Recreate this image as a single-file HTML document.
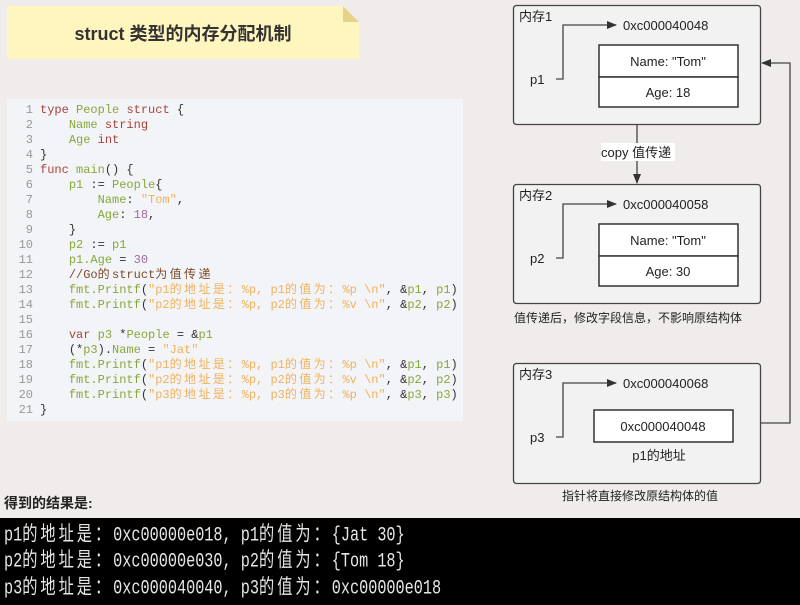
<!DOCTYPE html>
<html><head><meta charset="utf-8"><style>
body{margin:0;width:800px;height:605px;background:#efeceb;position:relative;overflow:hidden;font-family:"Liberation Sans","Noto Sans CJK SC",sans-serif;}
.abs{position:absolute;}
.code{left:7px;top:99px;width:456px;height:322px;background:#f3f4f8;font-family:"Liberation Mono","Noto Sans CJK SC",monospace;font-size:12px;}
.code div{position:absolute;left:0;height:15px;line-height:15px;white-space:pre;}
.ln{color:#999;display:inline-block;width:26px;text-align:right;margin-right:7px;}
.k{color:#a9443b}.g{color:#86a83a}.s{color:#f0b25c}.n{color:#9d6b9c}.c{color:#7a4a2a}.p{color:#333}
.w{letter-spacing:2.4px}
.term{left:0;top:518px;width:800px;height:87px;background:#000;}
.term div{position:absolute;left:4px;white-space:pre;font-family:"Liberation Mono","Noto Sans CJK SC",monospace;font-size:15.2px;color:#e6e6e6;transform:scaleY(1.35);transform-origin:left center;height:20px;line-height:20px;}
.cj{letter-spacing:3px}
</style></head><body>
<div class="abs" style="left:7px;top:6px;width:352px;height:53px;background:#fff6bf;clip-path:polygon(0 0,336px 0,352px 16px,352px 53px,0 53px);"></div>
<div class="abs" style="left:343px;top:6px;width:16px;height:16px;background:#e6d38a;clip-path:polygon(0 0,100% 100%,0 100%);"></div>
<div class="abs" style="left:7px;top:20px;width:352px;text-align:center;font-weight:bold;font-size:18px;color:#333;">struct 类型的内存分配机制</div>

<div class="abs code">
<div style="top:4px"><span class="ln">1</span><span class="k">type</span> <span class="g">People</span> <span class="k">struct</span> <span class="p">{</span></div>
<div style="top:19px"><span class="ln">2</span>    <span class="g">Name</span> <span class="k">string</span></div>
<div style="top:34px"><span class="ln">3</span>    <span class="g">Age</span> <span class="k">int</span></div>
<div style="top:49px"><span class="ln">4</span><span class="p">}</span></div>
<div style="top:64px"><span class="ln">5</span><span class="k">func</span> <span class="g">main</span><span class="p">() {</span></div>
<div style="top:79px"><span class="ln">6</span>    <span class="g">p1</span> <span class="p">:=</span> <span class="g">People</span><span class="p">{</span></div>
<div style="top:94px"><span class="ln">7</span>        <span class="g">Name</span><span class="p">:</span> <span class="s">"Tom"</span><span class="p">,</span></div>
<div style="top:109px"><span class="ln">8</span>        <span class="g">Age</span><span class="p">:</span> <span class="n">18</span><span class="p">,</span></div>
<div style="top:124px"><span class="ln">9</span>    <span class="p">}</span></div>
<div style="top:139px"><span class="ln">10</span>    <span class="g">p2</span> <span class="p">:=</span> <span class="g">p1</span></div>
<div style="top:154px"><span class="ln">11</span>    <span class="g">p1.Age</span> <span class="p">=</span> <span class="n">30</span></div>
<div style="top:169px"><span class="ln">12</span>    <span class="c">//Go<span class="w">的</span>struct<span class="w">为值传递</span></span></div>
<div style="top:184px"><span class="ln">13</span>    <span class="g">fmt.Printf</span><span class="p">(</span><span class="s">"p1<span class="w">的地址是：</span>%p, p1<span class="w">的值为：</span>%p \n"</span><span class="p">, &amp;</span><span class="g">p1</span><span class="p">,</span> <span class="g">p1</span><span class="p">)</span></div>
<div style="top:199px"><span class="ln">14</span>    <span class="g">fmt.Printf</span><span class="p">(</span><span class="s">"p2<span class="w">的地址是：</span>%p, p2<span class="w">的值为：</span>%v \n"</span><span class="p">, &amp;</span><span class="g">p2</span><span class="p">,</span> <span class="g">p2</span><span class="p">)</span></div>
<div style="top:214px"><span class="ln">15</span></div>
<div style="top:229px"><span class="ln">16</span>    <span class="k">var</span> <span class="g">p3</span> <span class="p">*</span><span class="g">People</span> <span class="p">= &amp;</span><span class="g">p1</span></div>
<div style="top:244px"><span class="ln">17</span>    <span class="p">(*</span><span class="g">p3</span><span class="p">).</span><span class="g">Name</span> <span class="p">=</span> <span class="s">"Jat"</span></div>
<div style="top:259px"><span class="ln">18</span>    <span class="g">fmt.Printf</span><span class="p">(</span><span class="s">"p1<span class="w">的地址是：</span>%p, p1<span class="w">的值为：</span>%p \n"</span><span class="p">, &amp;</span><span class="g">p1</span><span class="p">,</span> <span class="g">p1</span><span class="p">)</span></div>
<div style="top:274px"><span class="ln">19</span>    <span class="g">fmt.Printf</span><span class="p">(</span><span class="s">"p2<span class="w">的地址是：</span>%p, p2<span class="w">的值为：</span>%v \n"</span><span class="p">, &amp;</span><span class="g">p2</span><span class="p">,</span> <span class="g">p2</span><span class="p">)</span></div>
<div style="top:289px"><span class="ln">20</span>    <span class="g">fmt.Printf</span><span class="p">(</span><span class="s">"p3<span class="w">的地址是：</span>%p, p3<span class="w">的值为：</span>%p \n"</span><span class="p">, &amp;</span><span class="g">p3</span><span class="p">,</span> <span class="g">p3</span><span class="p">)</span></div>
<div style="top:304px"><span class="ln">21</span><span class="p">}</span></div>
</div>

<svg class="abs" style="left:0;top:0" width="800" height="605" font-family="Liberation Sans, Noto Sans CJK SC, sans-serif" font-size="13" fill="#222">
<defs><marker id="a" markerWidth="10" markerHeight="8" refX="9" refY="4" orient="auto" markerUnits="userSpaceOnUse"><path d="M0,0L10,4L0,8z" fill="#333"/></marker></defs>
<g stroke="#444" stroke-width="1.3" fill="#f2f2f2">
<rect x="513.5" y="5.5" width="247" height="119" rx="3"/>
<rect x="513.5" y="184.5" width="247" height="119" rx="3"/>
<rect x="513.5" y="363.5" width="247" height="120" rx="3"/>
</g>
<g stroke="#333" stroke-width="1.5" fill="#fff">
<rect x="599" y="45" width="139" height="32"/><rect x="599" y="77" width="139" height="30"/>
<rect x="599" y="224" width="139" height="32"/><rect x="599" y="256" width="139" height="30"/>
<rect x="594" y="410" width="139" height="32"/>
</g>
<g stroke="#444" stroke-width="1.3" fill="none">
<path d="M556,79H563V25H616" marker-end="url(#a)"/>
<path d="M556,258H563V204H616" marker-end="url(#a)"/>
<path d="M556,437H563V383H616" marker-end="url(#a)"/>
<path d="M637,124V183" marker-end="url(#a)"/>
<path d="M760,423H790V63H762" marker-end="url(#a)"/>
</g>
<rect x="601" y="143" width="74" height="18" fill="#fff"/>
<text x="601" y="157">copy 值传递</text>
<text x="519" y="21">内存1</text><text x="519" y="200">内存2</text><text x="519" y="379">内存3</text>
<text x="623" y="30">0xc000040048</text><text x="623" y="209">0xc000040058</text><text x="623" y="388">0xc000040068</text>
<text x="530" y="84">p1</text><text x="530" y="263">p2</text><text x="530" y="442">p3</text>
<g text-anchor="middle">
<text x="668" y="66">Name: "Tom"</text><text x="668" y="97">Age: 18</text>
<text x="668" y="245">Name: "Tom"</text><text x="668" y="276">Age: 30</text>
<text x="663" y="431">0xc000040048</text><text x="659" y="460">p1的地址</text>
<text x="640" y="500" font-size="12">指针将直接修改原结构体的值</text>
</g>
<text x="514" y="322" font-size="12">值传递后，修改字段信息，不影响原结构体</text>
<text x="4" y="508" font-size="14" font-weight="bold">得到的结果是:</text>
</svg>

<div class="abs term">
<div style="top:7px">p1<span class="cj">的地址是：</span>0xc00000e018, p1<span class="cj">的值为：</span>{Jat 30}</div>
<div style="top:33px">p2<span class="cj">的地址是：</span>0xc00000e030, p2<span class="cj">的值为：</span>{Tom 18}</div>
<div style="top:60px">p3<span class="cj">的地址是：</span>0xc000040040, p3<span class="cj">的值为：</span>0xc00000e018</div>
</div>
</body></html>
